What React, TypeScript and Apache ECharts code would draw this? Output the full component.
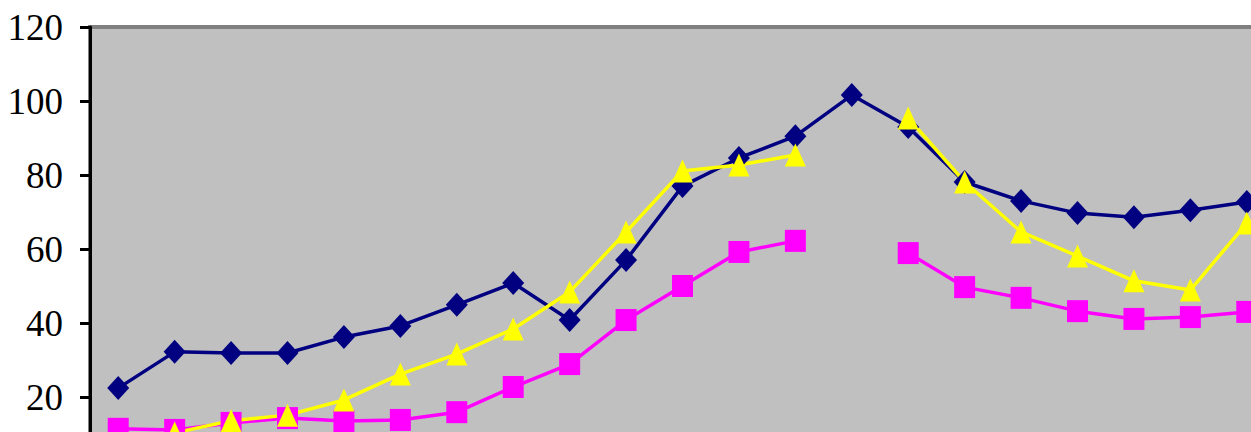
import React, { useEffect, useRef } from "react";
import * as echarts from "echarts";

const categories = ["1","2","3","4","5","6","7","8","9","10","11","12","13","14","15","16","17","18","19","20","21"];
const yTicks = [0, 20, 40, 60, 80, 100, 120];
const navySeries = [22.4, 32.2, 31.9, 31.9, 36.2, 39.2, 44.9, 50.8, 40.8, 57.0, 77.0, 84.6, 90.5, 101.6, 93.0, 78.1, 73.0, 69.7, 68.6, 70.5, 72.7];
const pinkSeries = [11.4, 11.1, 13.0, 14.3, 13.5, 13.8, 15.9, 22.7, 28.9, 40.8, 50.0, 59.2, 62.2, null, 58.9, 49.7, 46.8, 43.2, 41.1, 41.6, 43.0];
const yellowSeries = [null, 10.3, 13.6, 15.1, 19.2, 26.2, 31.6, 38.4, 48.4, 64.6, 81.1, 82.7, 85.4, null, 95.4, 78.1, 64.6, 58.1, 51.4, 48.9, 67.0];

export default function App() {
  const ref = useRef<HTMLDivElement>(null);
  useEffect(() => {
    if (!ref.current) return;
    const chart = echarts.init(ref.current, null, { renderer: "svg" });
    chart.setOption({
      animation: false,
      backgroundColor: "#ffffff",
      grid: {
        left: 90,
        top: 27,
        right: 25,
        bottom: 9,
        show: true,
        backgroundColor: "#C0C0C0",
        borderColor: "#808080",
        borderWidth: 4,
      },
      xAxis: {
        type: "category",
        data: categories,
        boundaryGap: true,
        axisLine: { show: false },
        axisTick: { show: false },
        axisLabel: { show: false },
        splitLine: { show: false },
      },
      yAxis: {
        type: "value",
        min: yTicks[0],
        max: yTicks[yTicks.length - 1],
        interval: 20,
        axisLine: { show: true, lineStyle: { color: "#000000", width: 3 } },
        axisTick: { show: true, length: 10, lineStyle: { color: "#000000", width: 3 } },
        axisLabel: {
          margin: 27,
          color: "#000000",
          fontFamily: "Liberation Serif",
          fontSize: 37,
          showMinLabel: false,
        },
        splitLine: { show: false },
      },
      series: [
        {
          type: "line",
          data: navySeries,
          symbol: "diamond",
          symbolSize: [22, 24],
          showAllSymbol: true,
          connectNulls: false,
          lineStyle: { color: "#000080", width: 3.5 },
          itemStyle: { color: "#000080" },
        },
        {
          type: "line",
          data: pinkSeries,
          symbol: "rect",
          symbolSize: [21, 22],
          showAllSymbol: true,
          connectNulls: false,
          lineStyle: { color: "#FF00FF", width: 3.5 },
          itemStyle: { color: "#FF00FF" },
        },
        {
          type: "line",
          data: yellowSeries,
          symbol: "triangle",
          symbolSize: [21, 23],
          showAllSymbol: true,
          connectNulls: false,
          lineStyle: { color: "#FFFF00", width: 3.5 },
          itemStyle: { color: "#FFFF00" },
        },
      ],
    });
    return () => chart.dispose();
  }, []);
  return (
    <div
      ref={ref}
      style={{ position: "absolute", left: 0, top: 0, width: 1300, height: 480 }}
    />
  );
}
